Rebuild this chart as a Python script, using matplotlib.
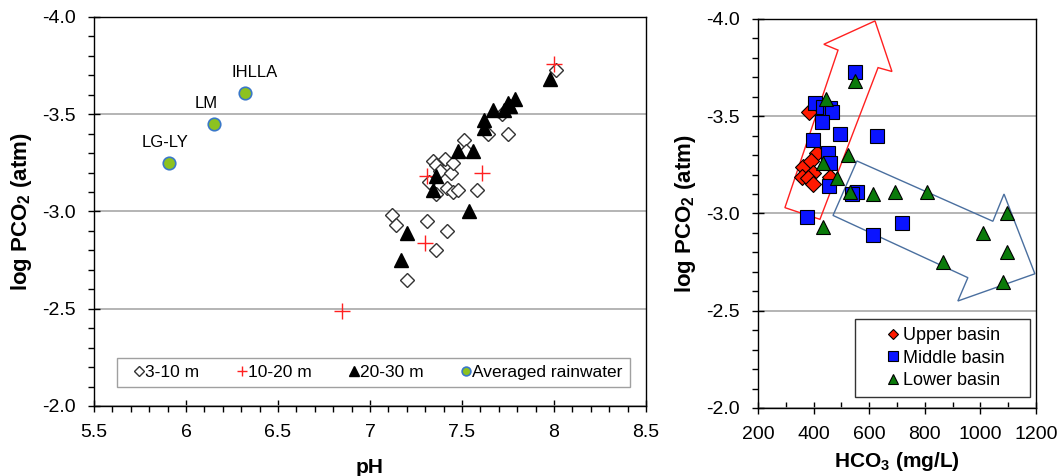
import matplotlib.pyplot as plt
from matplotlib.patches import Polygon
from matplotlib.ticker import MultipleLocator

plt.rcParams['font.family'] = ['Liberation Sans', 'DejaVu Sans']
plt.rcParams['mathtext.fontset'] = 'custom'
plt.rcParams['mathtext.rm'] = 'Liberation Sans'
plt.rcParams['mathtext.bf'] = 'Liberation Sans:bold'

# ---- left panel: pH vs log PCO2 ----
ph_3_10 = [7.12, 7.14, 7.20, 7.31, 7.36, 7.42, 7.34, 7.36, 7.41, 7.38, 7.44, 7.45, 7.51, 7.52,
           7.32, 7.36, 7.42, 7.45, 7.48, 7.58, 7.64, 7.75, 7.72, 8.01]
pco2_3_10 = [-2.98, -2.93, -2.65, -2.95, -2.80, -2.90, -3.26, -3.24, -3.27, -3.21, -3.20, -3.25, -3.37, -3.31,
             -3.15, -3.09, -3.12, -3.10, -3.11, -3.11, -3.40, -3.40, -3.50, -3.73]

ph_10_20 = [6.85, 7.30, 7.31, 7.61, 8.00]
pco2_10_20 = [-2.49, -2.84, -3.18, -3.20, -3.76]

ph_20_30 = [7.17, 7.20, 7.34, 7.36, 7.48, 7.56, 7.54, 7.62, 7.62, 7.67, 7.73, 7.75, 7.76, 7.79, 7.98]
pco2_20_30 = [-2.75, -2.89, -3.11, -3.18, -3.31, -3.31, -3.00, -3.43, -3.47, -3.52, -3.52, -3.56, -3.54, -3.58, -3.68]

rain_ph = [5.91, 6.15, 6.32]
rain_pco2 = [-3.25, -3.45, -3.61]
rain_names = ['LG-LY', 'LM', 'IHLLA']
rain_offsets = [(-3, 9), (-5, 9), (7, 9)]

# ---- right panel: HCO3 vs log PCO2 ----
up_hco3 = [383, 414, 362, 390, 398, 358, 380, 397, 459]
up_pco2 = [-3.52, -3.31, -3.24, -3.27, -3.21, -3.19, -3.18, -3.15, -3.19]

mid_hco3 = [549, 405, 434, 459, 466, 430, 495, 628, 398, 452, 459, 455, 556, 538, 376, 614, 718]
mid_pco2 = [-3.73, -3.57, -3.55, -3.54, -3.52, -3.47, -3.41, -3.40, -3.38, -3.31, -3.26, -3.14, -3.11, -3.10,
            -2.98, -2.89, -2.95]

low_hco3 = [549, 445, 524, 434, 484, 531, 614, 692, 808, 434, 1096, 1009, 1096, 865, 1081]
low_pco2 = [-3.68, -3.59, -3.30, -3.26, -3.18, -3.11, -3.10, -3.11, -3.11, -2.93, -3.00, -2.90, -2.80, -2.75, -2.65]

# arrow outlines (data coords)
red_arrow = [(297, -3.03), (423, -2.97), (632, -3.75), (682, -3.73), (621, -3.99), (437, -3.87), (488, -3.84)]
blue_arrow = [(556, -3.27), (1045, -2.96), (1085, -3.10), (1196, -2.69), (919, -2.55), (955, -2.67), (470, -2.99)]

fig = plt.figure(figsize=(10.62, 4.76), dpi=100)
ax1 = fig.add_axes([0.0885, 0.1471, 0.5198, 0.8172])
ax2 = fig.add_axes([0.7137, 0.1429, 0.2618, 0.8172])


def style(ax):
    ax.yaxis.set_major_locator(MultipleLocator(0.5))
    ax.yaxis.set_minor_locator(MultipleLocator(0.1))
    ax.grid(axis='y', color='#a8a8a8', lw=1.2)
    ax.set_axisbelow(True)
    ax.tick_params(which='major', direction='inout', length=8, width=1, labelsize=14, pad=9,
                   top=False, right=False)
    ax.tick_params(axis='y', which='minor', direction='out', length=4, width=1, right=False)
    ax.yaxis.set_major_formatter(plt.FormatStrFormatter('%.1f'))
    for s in ax.spines.values():
        s.set_color('black')
        s.set_linewidth(1)


# left
ax1.plot(ph_3_10, pco2_3_10, 'D', mfc='white', mec='#333333', ms=7.5, mew=1, ls='none', label='3-10 m')
ax1.plot(ph_10_20, pco2_10_20, '+', color='#ff2020', ms=11, mew=1, ls='none', label='10-20 m')
ax1.plot(ph_20_30, pco2_20_30, '^', color='black', ms=9.5, ls='none', label='20-30 m')
ax1.plot(rain_ph, rain_pco2, 'o', mfc='#8dc21f', mec='#3a78c8', ms=9, mew=1.2, ls='none',
         label='Averaged rainwater')
for x, y, name, off in zip(rain_ph, rain_pco2, rain_names, rain_offsets):
    ax1.annotate(name, (x, y), xytext=off, textcoords='offset points', ha='center', va='bottom',
                 fontsize=12)
ax1.set_xlim(5.5, 8.5)
ax1.set_ylim(-2.0, -4.0)
ax1.xaxis.set_major_locator(MultipleLocator(0.5))
ax1.xaxis.set_minor_locator(MultipleLocator(0.1))
ax1.xaxis.set_major_formatter(plt.FuncFormatter(lambda v, p: ('%g' % v)))
style(ax1)
ax1.tick_params(axis='x', which='minor', direction='out', length=4, width=1, top=False)
ax1.set_xlabel('pH', fontsize=15, fontweight='bold', labelpad=12)
ax1.set_ylabel(r'log PCO$_{\mathbf{2}}$ (atm)', fontsize=16, fontweight='bold', labelpad=6)
leg1 = ax1.legend(loc='lower center', bbox_to_anchor=(0.5065, 0.049), borderaxespad=0, ncol=4, fontsize=12.5,
                  frameon=True, fancybox=False, edgecolor='#888888', handlelength=1.7, handletextpad=-0.5,
                  columnspacing=1.6, borderpad=0.4, markerscale=0.7)
leg1.get_frame().set_linewidth(1)

# right
ax2.add_patch(Polygon(red_arrow, closed=True, fill=False, edgecolor='#ff2020', lw=1, zorder=1.5))
ax2.add_patch(Polygon(blue_arrow, closed=True, fill=False, edgecolor='#4a6f9f', lw=1, zorder=1.5))
ax2.plot(up_hco3, up_pco2, 'D', mfc='#ff1a00', mec='black', ms=8, mew=0.8, ls='none', label='Upper basin')
ax2.plot(mid_hco3, mid_pco2, 's', mfc='#0a14ff', mec='black', ms=10, mew=0.8, ls='none', label='Middle basin')
ax2.plot(low_hco3, low_pco2, '^', mfc='#0a7a0a', mec='black', ms=10, mew=0.8, ls='none', label='Lower basin')
ax2.set_xlim(200, 1200)
ax2.set_ylim(-2.0, -4.0)
ax2.xaxis.set_major_locator(MultipleLocator(200))
ax2.xaxis.set_minor_locator(MultipleLocator(100))
style(ax2)
ax2.tick_params(axis='x', which='minor', direction='in', length=4, width=1, top=False)
ax2.set_xlabel(r'HCO$_{\mathbf{3}}$ (mg/L)', fontsize=15, fontweight='bold', labelpad=5)
ax2.set_ylabel(r'log PCO$_{\mathbf{2}}$ (atm)', fontsize=16, fontweight='bold', labelpad=6)
leg2 = ax2.legend(loc='lower left', bbox_to_anchor=(0.349, 0.028, 0.629, 0.2), mode='expand', borderaxespad=0,
                  fontsize=13, frameon=True, fancybox=False, edgecolor='black', handlelength=3.3,
                  handletextpad=-1.1, labelspacing=0.3, borderpad=0.45, markerscale=0.7)
leg2.get_frame().set_linewidth(1)

fig.savefig('out.png', dpi=100)
